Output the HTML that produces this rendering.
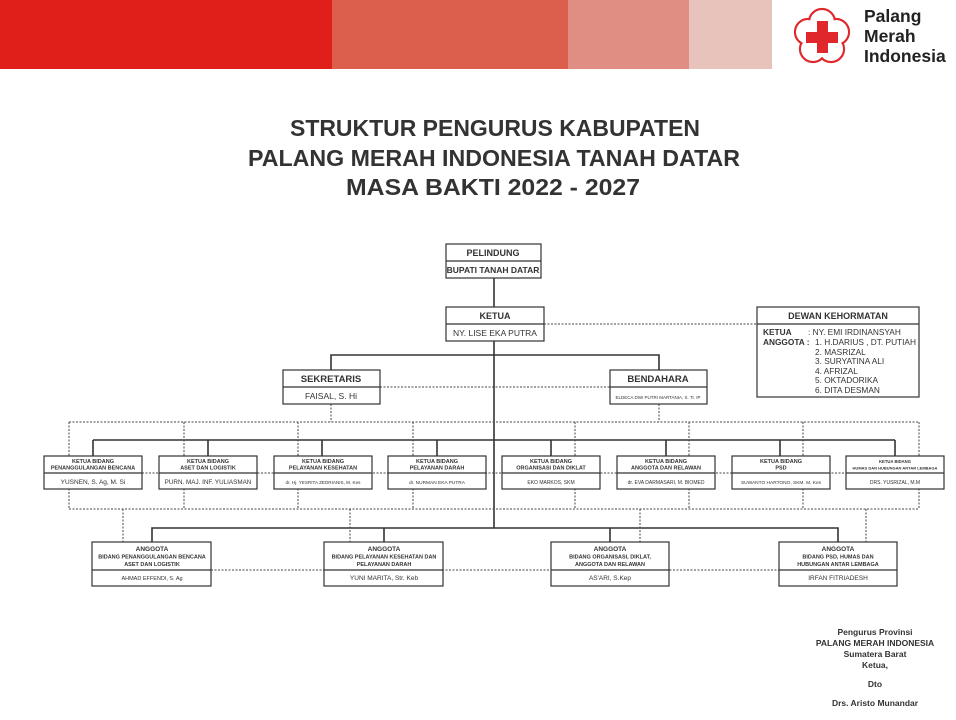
<!DOCTYPE html>
<html><head><meta charset="utf-8"><style>
html,body{margin:0;padding:0;background:#fff;}
svg{display:block;}
text{font-family:"Liberation Sans",Arial,sans-serif;fill:#333;}
</style></head><body>
<svg width="956" height="720" viewBox="0 0 956 720" xmlns="http://www.w3.org/2000/svg">
<!-- header bands -->
<rect x="0" y="0" width="332" height="69" fill="#e01f1a"/>
<rect x="332" y="0" width="236" height="69" fill="#dc5e4c"/>
<rect x="568" y="0" width="121" height="69" fill="#e08e84"/>
<rect x="689" y="0" width="83" height="69" fill="#e8c3bb"/>
<!-- logo -->
<g fill="none" stroke="#e0282c" stroke-width="2.2">
<circle cx="822" cy="22" r="13"/><circle cx="836" cy="32" r="13"/><circle cx="831" cy="49" r="13"/><circle cx="813" cy="49" r="13"/><circle cx="808" cy="32" r="13"/>
</g>
<g fill="#fff">
<circle cx="822" cy="22" r="11.9"/><circle cx="836" cy="32" r="11.9"/><circle cx="831" cy="49" r="11.9"/><circle cx="813" cy="49" r="11.9"/><circle cx="808" cy="32" r="11.9"/><circle cx="822" cy="37" r="14"/>
</g>
<rect x="817" y="21" width="11" height="32" fill="#e0282c"/>
<rect x="806" y="32" width="32" height="11" fill="#e0282c"/>
<g font-weight="bold" font-size="17.5"><text x="864" y="22" style="fill:#222">Palang</text><text x="864" y="42" style="fill:#222">Merah</text><text x="864" y="62" style="fill:#222">Indonesia</text></g>
<!-- title -->
<g font-weight="bold" font-size="23" text-anchor="middle" style="font-family:'DejaVu Sans','Liberation Sans',sans-serif">
<text x="495" y="136" textLength="410" lengthAdjust="spacingAndGlyphs">STRUKTUR PENGURUS KABUPATEN</text>
<text x="494" y="166" textLength="492" lengthAdjust="spacingAndGlyphs">PALANG MERAH INDONESIA TANAH DATAR</text>
<text x="493" y="195" textLength="294" lengthAdjust="spacingAndGlyphs">MASA BAKTI 2022 - 2027</text>
</g>
<!-- solid connectors -->
<g stroke="#333" stroke-width="1.6" fill="none">
<line x1="494" y1="278" x2="494" y2="528"/>
<line x1="494" y1="341" x2="494" y2="307"/>
<polyline points="331,370 331,355 659,355 659,370"/>
<line x1="93" y1="440" x2="895" y2="440"/>
<line x1="93" y1="440" x2="93" y2="456"/><line x1="208" y1="440" x2="208" y2="456"/><line x1="322" y1="440" x2="322" y2="456"/><line x1="437" y1="440" x2="437" y2="456"/><line x1="551" y1="440" x2="551" y2="456"/><line x1="666" y1="440" x2="666" y2="456"/><line x1="780" y1="440" x2="780" y2="456"/><line x1="895" y1="440" x2="895" y2="456"/>
<polyline points="152,542 152,528 838,528 838,542"/>
<line x1="384" y1="528" x2="384" y2="542"/><line x1="610" y1="528" x2="610" y2="542"/>
</g>
<!-- dotted connectors -->
<g stroke="#444" stroke-width="1" stroke-dasharray="2,1.5" fill="none">
<line x1="544" y1="324" x2="757" y2="324"/>
<line x1="380" y1="387" x2="610" y2="387"/>
<line x1="331" y1="404" x2="331" y2="422"/><line x1="659" y1="404" x2="659" y2="422"/>
<line x1="69" y1="422" x2="919" y2="422"/>
<line x1="69" y1="422" x2="69" y2="509"/><line x1="184" y1="422" x2="184" y2="509"/><line x1="298" y1="422" x2="298" y2="509"/><line x1="413" y1="422" x2="413" y2="509"/><line x1="575" y1="422" x2="575" y2="509"/><line x1="689" y1="422" x2="689" y2="509"/><line x1="803" y1="422" x2="803" y2="509"/><line x1="919" y1="422" x2="919" y2="509"/>
<line x1="142" y1="473" x2="846" y2="473"/>
<line x1="69" y1="509" x2="919" y2="509"/>
<line x1="123" y1="509" x2="123" y2="542"/><line x1="350" y1="509" x2="350" y2="542"/><line x1="640" y1="509" x2="640" y2="542"/><line x1="866" y1="509" x2="866" y2="542"/>
<line x1="211" y1="570" x2="779" y2="570"/>
</g>
<!-- boxes -->
<g fill="#fff" stroke="#333" stroke-width="1.2">
<rect x="446" y="244" width="95" height="34"/><line x1="446" y1="261" x2="541" y2="261"/>
<rect x="446" y="307" width="98" height="34"/><line x1="446" y1="324" x2="544" y2="324"/>
<rect x="757" y="307" width="162" height="90"/><line x1="757" y1="324" x2="919" y2="324"/>
<rect x="283" y="370" width="97" height="34"/><line x1="283" y1="387" x2="380" y2="387"/>
<rect x="610" y="370" width="97" height="34"/><line x1="610" y1="387" x2="707" y2="387"/>
<rect x="44" y="456" width="98" height="33"/><line x1="44" y1="473" x2="142" y2="473"/>
<rect x="159" y="456" width="98" height="33"/><line x1="159" y1="473" x2="257" y2="473"/>
<rect x="274" y="456" width="98" height="33"/><line x1="274" y1="473" x2="372" y2="473"/>
<rect x="388" y="456" width="98" height="33"/><line x1="388" y1="473" x2="486" y2="473"/>
<rect x="502" y="456" width="98" height="33"/><line x1="502" y1="473" x2="600" y2="473"/>
<rect x="617" y="456" width="98" height="33"/><line x1="617" y1="473" x2="715" y2="473"/>
<rect x="732" y="456" width="98" height="33"/><line x1="732" y1="473" x2="830" y2="473"/>
<rect x="846" y="456" width="98" height="33"/><line x1="846" y1="473" x2="944" y2="473"/>
<rect x="92" y="542" width="119" height="44"/><line x1="92" y1="570" x2="211" y2="570"/>
<rect x="324" y="542" width="119" height="44"/><line x1="324" y1="570" x2="443" y2="570"/>
<rect x="551" y="542" width="118" height="44"/><line x1="551" y1="570" x2="669" y2="570"/>
<rect x="779" y="542" width="118" height="44"/><line x1="779" y1="570" x2="897" y2="570"/>
</g>
<!-- box text -->
<g text-anchor="middle">
<text x="493" y="256" font-size="9" font-weight="bold">PELINDUNG</text>
<text x="493" y="273" font-size="8.5" font-weight="bold">BUPATI TANAH DATAR</text>
<text x="495" y="319" font-size="9" font-weight="bold">KETUA</text>
<text x="495" y="336" font-size="8.5">NY. LISE EKA PUTRA</text>
<text x="838" y="319" font-size="9" font-weight="bold">DEWAN KEHORMATAN</text>
<text x="331" y="382" font-size="9.5" font-weight="bold">SEKRETARIS</text>
<text x="331" y="399" font-size="8.5">FAISAL, S. Hi</text>
<text x="658" y="382" font-size="9.5" font-weight="bold">BENDAHARA</text>
<text x="658" y="399" font-size="4.5">ELDECA DWI PUTRI MARTANIA, S. Tr. IP</text>
<g font-size="5.5" font-weight="bold">
<text x="93" y="463">KETUA BIDANG</text><text x="93" y="469.5">PENANGGULANGAN BENCANA</text>
<text x="208" y="463">KETUA BIDANG</text><text x="208" y="469.5">ASET DAN LOGISTIK</text>
<text x="323" y="463">KETUA BIDANG</text><text x="323" y="469.5">PELAYANAN KESEHATAN</text>
<text x="437" y="463">KETUA BIDANG</text><text x="437" y="469.5">PELAYANAN DARAH</text>
<text x="551" y="463">KETUA BIDANG</text><text x="551" y="469.5">ORGANISASI DAN DIKLAT</text>
<text x="666" y="463">KETUA BIDANG</text><text x="666" y="469.5">ANGGOTA DAN RELAWAN</text>
<text x="781" y="463">KETUA BIDANG</text><text x="781" y="469.5">PSD</text>
<text x="895" y="463" font-size="4.2">KETUA BIDANG</text><text x="895" y="469.5" font-size="4">HUMAS DAN HUBUNGAN ANTAR LEMBAGA</text>
</g>
<text x="93" y="484" font-size="6.5">YUSNEN, S. Ag, M. Si</text>
<text x="208" y="484" font-size="6.3">PURN. MAJ. INF. YULIASMAN</text>
<text x="323" y="484" font-size="4.6">dr. Hj. YESRITA ZEDRIANIS, M. Kes</text>
<text x="437" y="484" font-size="4.8">dr. NURMAN EKA PUTRA</text>
<text x="551" y="484" font-size="5">EKO MARKOS, SKM</text>
<text x="666" y="484" font-size="5">dr. EVA DARMASARI, M. BIOMED</text>
<text x="781" y="484" font-size="4.8">SUWANTO HARTONO, SKM. M. Kes</text>
<text x="895" y="484" font-size="5">DRS. YUSRIZAL, M.M</text>
<g font-size="5.5" font-weight="bold">
<text x="152" y="551" font-size="6.5">ANGGOTA</text><text x="152" y="558.5">BIDANG PENANGGULANGAN BENCANA</text><text x="152" y="566">ASET DAN LOGISTIK</text>
<text x="384" y="551" font-size="6.5">ANGGOTA</text><text x="384" y="558.5">BIDANG PELAYANAN KESEHATAN DAN</text><text x="384" y="566">PELAYANAN DARAH</text>
<text x="610" y="551" font-size="6.5">ANGGOTA</text><text x="610" y="558.5">BIDANG ORGANISASI, DIKLAT,</text><text x="610" y="566">ANGGOTA DAN RELAWAN</text>
<text x="838" y="551" font-size="6.5">ANGGOTA</text><text x="838" y="558.5">BIDANG PSD, HUMAS DAN</text><text x="838" y="566">HUBUNGAN ANTAR LEMBAGA</text>
</g>
<text x="152" y="580" font-size="5.5">AHMAD EFFENDI, S. Ag</text>
<text x="384" y="580" font-size="6.5">YUNI MARITA, Str. Keb</text>
<text x="610" y="580" font-size="6.5">AS'ARI, S.Kep</text>
<text x="838" y="580" font-size="6.5">IRFAN FITRIADESH</text>
</g>
<!-- dewan list -->
<g font-size="8.3">
<text x="763" y="335" font-weight="bold">KETUA</text><text x="808" y="335">: NY. EMI IRDINANSYAH</text>
<text x="763" y="345" font-weight="bold">ANGGOTA :</text><text x="815" y="345">1. H.DARIUS , DT. PUTIAH</text>
<text x="815" y="355">2. MASRIZAL</text>
<text x="815" y="364">3. SURYATINA ALI</text>
<text x="815" y="374">4. AFRIZAL</text>
<text x="815" y="383">5. OKTADORIKA</text>
<text x="815" y="393">6. DITA DESMAN</text>
</g>
<!-- signature -->
<g text-anchor="middle" font-size="8.5" font-weight="bold">
<text x="875" y="635">Pengurus Provinsi</text>
<text x="875" y="646">PALANG MERAH INDONESIA</text>
<text x="875" y="657">Sumatera Barat</text>
<text x="875" y="668">Ketua,</text>
<text x="875" y="687">Dto</text>
<text x="875" y="706">Drs. Aristo Munandar</text>
</g>
</svg>
</body></html>
